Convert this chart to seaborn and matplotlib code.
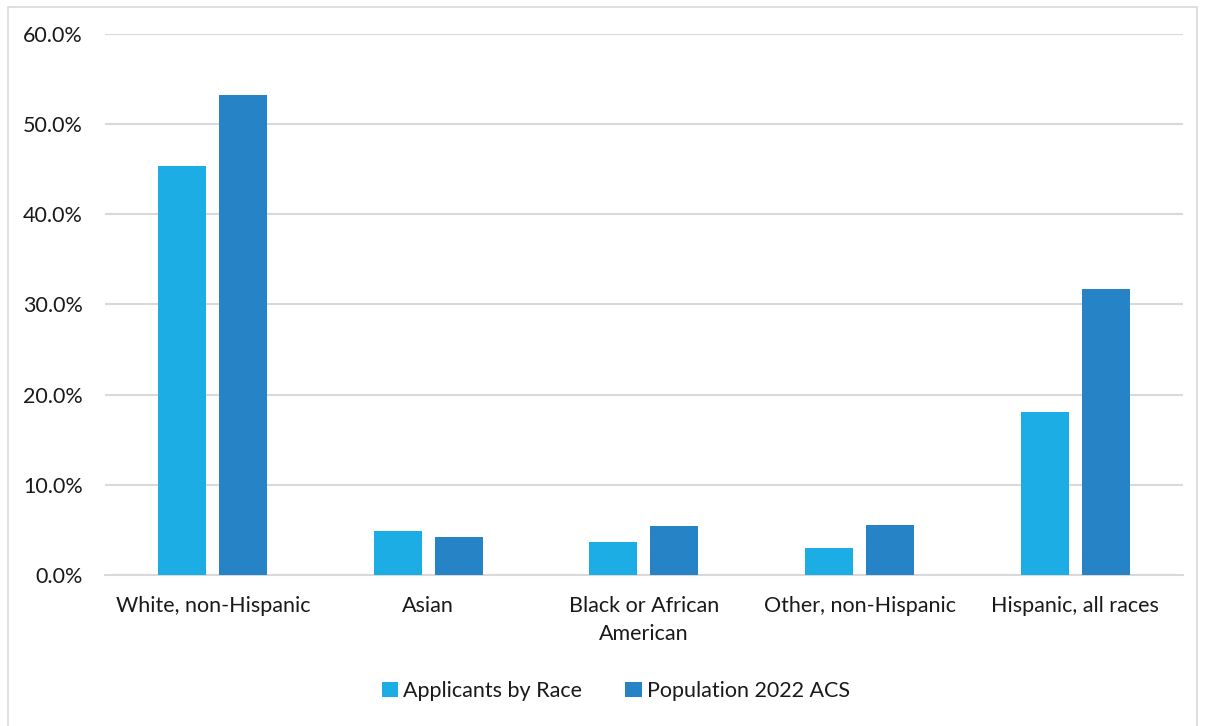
import matplotlib
matplotlib.use('Agg')
import matplotlib.pyplot as plt
import matplotlib.patches as mpatches
import seaborn as sns
import pandas as pd
from matplotlib.ticker import PercentFormatter

# Data
categories = ['White, non-Hispanic', 'Asian', 'Black or African\nAmerican',
              'Other, non-Hispanic', 'Hispanic, all races']
applicants = [45.4, 4.9, 3.7, 3.0, 18.1]
population = [53.2, 4.2, 5.4, 5.5, 31.7]
series_names = ['Applicants by Race', 'Population 2022 ACS']
colors = ['#1CADE4', '#2683C6']

df = pd.DataFrame({
    'category': categories * 2,
    'value': applicants + population,
    'series': [series_names[0]] * len(categories) + [series_names[1]] * len(categories),
})

sns.set_style('white')
plt.rcParams['font.family'] = ['Lato', 'DejaVu Sans']

fig = plt.figure(figsize=(12.05, 7.26), dpi=100)
ax = fig.add_axes([0.0871, 0.208, 0.8946, 0.7452])

sns.barplot(data=df, x='category', y='value', hue='series', palette=colors,
            saturation=1, width=0.566, gap=0.213, ax=ax, zorder=3, edgecolor='none')

ax.set_ylim(0, 60)
ax.set_yticks(range(0, 61, 10))
ax.yaxis.set_major_formatter(PercentFormatter(decimals=1))
ax.set_xlim(-0.5, len(categories) - 0.5)
ax.grid(axis='y', color='#D9D9D9', linewidth=1.5, zorder=0)
for s in ['top', 'right', 'left']:
    ax.spines[s].set_visible(False)
ax.spines['bottom'].set_color('#D9D9D9')
ax.spines['bottom'].set_linewidth(1.5)
ax.set_xlabel('')
ax.set_ylabel('')
ax.tick_params(axis='both', length=0, labelsize=15.5, colors='#1a1a1a')
ax.tick_params(axis='y', pad=16)
ax.tick_params(axis='x', pad=15)
for lbl in ax.get_xticklabels():
    lbl.set_linespacing(1.5)

ax.legend(loc='upper center', bbox_to_anchor=(0.474, -0.16), ncol=2, frameon=False,
          fontsize=15.5, handlelength=0.75, handleheight=0.75, handletextpad=0.25,
          columnspacing=2.0, labelcolor='#1a1a1a')

# outer chart frame
fig.patches.append(mpatches.Rectangle((8 / 1205, -0.01), 1189 / 1205, 1 - 7 / 726 + 0.01,
                                      transform=fig.transFigure, fill=False,
                                      edgecolor='#D9D9D9', linewidth=1.2))

fig.savefig('out.png', dpi=100)
